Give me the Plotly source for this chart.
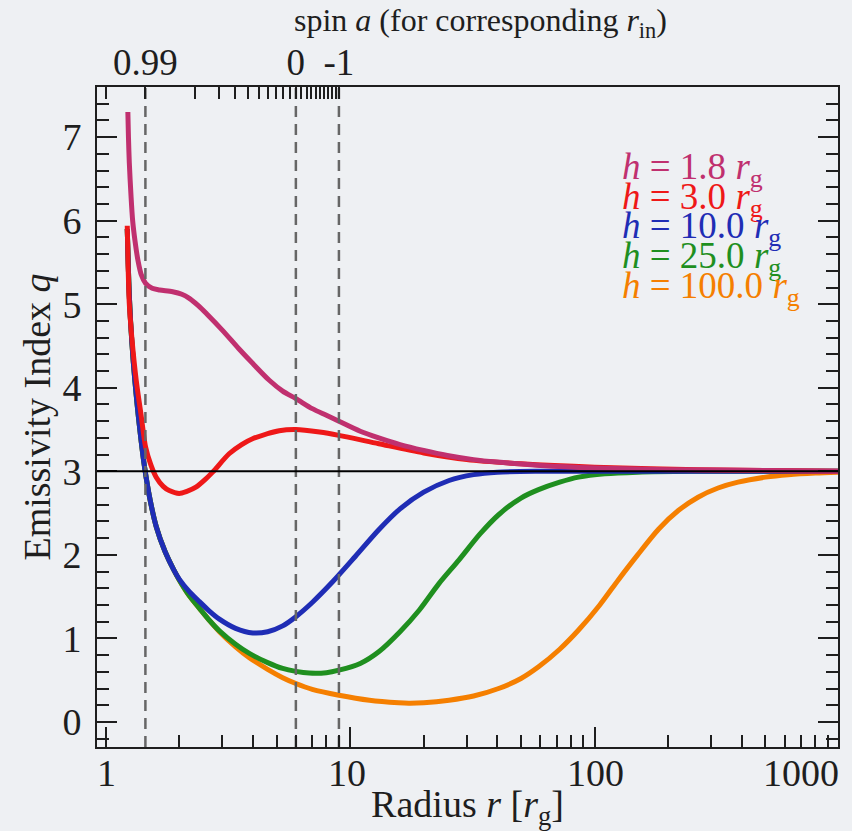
import numpy as np
import plotly.graph_objects as go

# ---------------- data ----------------
r_h18 = [1.233, 1.24, 1.25, 1.27, 1.29, 1.32, 1.355, 1.40, 1.457, 1.55, 1.664, 1.88, 2.05, 2.2, 2.4, 2.6,
         3.0, 3.5, 4.0, 4.67, 5.3, 6.0, 7.0, 8.0, 9.0, 11, 13.1, 16, 20, 25, 32, 40, 60, 100, 200, 500, 1000]
q_h18 = [7.30, 7.0, 6.69, 6.30, 6.0, 5.75, 5.53, 5.35, 5.25, 5.19, 5.17, 5.15, 5.12, 5.07, 4.98, 4.88,
         4.69, 4.47, 4.29, 4.09, 3.96, 3.87, 3.75, 3.67, 3.60, 3.48, 3.40, 3.32, 3.25, 3.19, 3.14, 3.11,
         3.07, 3.04, 3.02, 3.01, 3.0]

r_h3 = [1.226, 1.235, 1.25, 1.28, 1.334, 1.40, 1.457, 1.53, 1.61, 1.72, 1.82, 2.0, 2.15, 2.34, 2.55, 2.74,
        3.2, 3.6, 3.99, 5.13, 6.0, 7.5, 9.0, 13.1, 20, 30, 50, 100, 265, 1000]
q_h3 = [5.94, 5.5, 5.0, 4.6, 4.09, 3.65, 3.29, 3.08, 2.93, 2.82, 2.77, 2.735, 2.76, 2.81, 2.90, 2.99,
        3.21, 3.32, 3.39, 3.485, 3.50, 3.47, 3.43, 3.33, 3.22, 3.14, 3.09, 3.05, 3.02, 3.0]

r_h10 = [1.226, 1.25, 1.28, 1.317, 1.38, 1.443, 1.52, 1.61, 1.75, 1.9, 2.0, 2.2, 2.42, 2.65, 2.92, 3.4,
         4.0, 4.6, 5.3, 6.0, 7.0, 8.5, 10.5, 13.1, 16, 20, 25.4, 32, 40, 60, 100, 1000]
q_h10 = [5.90, 5.1, 4.55, 4.09, 3.5, 3.05, 2.66, 2.34, 2.04, 1.82, 1.71, 1.56, 1.44, 1.33, 1.23, 1.12,
         1.065, 1.08, 1.15, 1.26, 1.43, 1.68, 1.98, 2.30, 2.55, 2.75, 2.89, 2.96, 2.99, 3.0, 3.0, 3.0]

r_h25 = [1.226, 1.25, 1.28, 1.317, 1.38, 1.443, 1.52, 1.61, 1.75, 1.9, 2.0, 2.2, 2.42, 2.65, 2.92, 3.4,
         3.87, 4.6, 5.3, 6.0, 6.8, 8.0, 9.0, 11, 13.1, 16, 19.2, 23, 27.9, 34, 40.5, 50, 59, 72, 86, 110,
         150, 250, 1000]
q_h25 = [5.90, 5.1, 4.55, 4.09, 3.5, 3.05, 2.66, 2.34, 2.04, 1.82, 1.70, 1.51, 1.36, 1.22, 1.09, 0.93,
         0.82, 0.71, 0.64, 0.605, 0.585, 0.59, 0.62, 0.70, 0.84, 1.08, 1.34, 1.65, 1.94, 2.25, 2.48, 2.68,
         2.78, 2.87, 2.93, 2.97, 2.99, 3.0, 3.0]

r_h100 = [1.226, 1.25, 1.28, 1.317, 1.38, 1.443, 1.52, 1.61, 1.75, 1.9, 2.0, 2.2, 2.42, 2.65, 2.92, 3.4,
          3.87, 4.6, 5.3, 6.0, 7.0, 9.0, 12, 15.8, 17.4, 20, 25.4, 32, 40.5, 50, 59, 72, 86, 105, 125, 150,
          183, 220, 265, 320, 386, 500, 620, 800, 1000]
q_h100 = [5.90, 5.1, 4.55, 4.09, 3.5, 3.05, 2.66, 2.34, 2.04, 1.82, 1.70, 1.51, 1.36, 1.22, 1.08, 0.90,
          0.77, 0.63, 0.53, 0.46, 0.39, 0.32, 0.26, 0.23, 0.225, 0.23, 0.26, 0.31, 0.40, 0.52, 0.66, 0.87,
          1.10, 1.40, 1.70, 2.00, 2.31, 2.53, 2.69, 2.80, 2.87, 2.93, 2.96, 2.98, 2.99]

series_names = ["h = 1.8 rg", "h = 3.0 rg", "h = 10.0 rg", "h = 25.0 rg", "h = 100.0 rg"]
series_labels = ["1.8", "3.0", "10.0", "25.0", "100.0"]
series_r = [r_h18, r_h3, r_h10, r_h25, r_h100]
series_q = [q_h18, q_h3, q_h10, q_h25, q_h100]
colors = ["#c0306f", "#ee1818", "#1f2db5", "#1f8f1f", "#f57f00"]

# spin values shown on the top axis (positions = ISCO radius)
spin_labelled = [0.99, 0.0, -1.0]
spin_labels = ["0.99", "0", "-1"]
spin_minor = [1.0, 0.9, 0.8, 0.7, 0.6, 0.5, 0.4, 0.3, 0.2, 0.1,
              -0.1, -0.2, -0.3, -0.4, -0.5, -0.6, -0.7, -0.8, -0.9]

x_ticks = [1, 10, 100, 1000]
x_ticklabels = ["1", "10", "100", "1000"]
y_ticks = [0, 1, 2, 3, 4, 5, 6, 7]
x_range = [0.922, 990]
y_range = [-0.30, 7.60]


def r_isco(a):
    z1 = 1 + (1 - a * a) ** (1 / 3) * ((1 + a) ** (1 / 3) + (1 - a) ** (1 / 3))
    z2 = np.sqrt(3 * a * a + z1 * z1)
    s = 1 if a >= 0 else -1
    return 3 + z2 - s * np.sqrt(max((3 - z1) * (3 + z1 + 2 * z2), 0))


FONT = "Liberation Serif"
BG = "#eef0f3"
TXT = "#1e1e1e"
lx0, lx1 = np.log10(x_range[0]), np.log10(x_range[1])


def xpaper(v):
    return (np.log10(v) - lx0) / (lx1 - lx0)


fig = go.Figure()

# dashed ISCO lines (on the top axis)
for a in spin_labelled:
    rv = r_isco(a)
    fig.add_trace(go.Scatter(x=[rv, rv], y=y_range, mode="lines", xaxis="x2", yaxis="y",
                             line=dict(color="#666666", width=2.5, dash="11px,7px"),
                             hoverinfo="skip", showlegend=False))

# curves (drawn back to front)
for i in [4, 3, 2, 1, 0]:
    fig.add_trace(go.Scatter(x=series_r[i], y=series_q[i], mode="lines", name=series_names[i],
                             line=dict(color=colors[i], width=5, shape="spline", smoothing=0.8),
                             showlegend=False))

fig.add_shape(type="line", xref="paper", x0=0, x1=1, yref="y", y0=3, y1=3,
              line=dict(color="black", width=2), layer="above")

annotations = []
# bottom tick labels
shifts = [1, -3, 1, -38]
for v, t, s in zip(x_ticks, x_ticklabels, shifts):
    annotations.append(dict(x=xpaper(v), xref="paper", y=-0.039, yref="paper", text=t, showarrow=False,
                            xanchor="center", yanchor="middle", xshift=s,
                            font=dict(family=FONT, size=38, color=TXT)))

# legend texts
leg_y = [164, 194, 224, 253, 283]
for i in range(5):
    annotations.append(dict(x=(621 - 97) / 743, xref="paper", y=(747 - leg_y[i]) / 660, yref="paper",
                            text=f"<i>h</i> = {series_labels[i]} <i>r</i><sub>g</sub>",
                            showarrow=False, xanchor="left", yanchor="middle", yshift=-5,
                            font=dict(family=FONT, size=37, color=colors[i])))

# top title
annotations.append(dict(x=(482 - 97) / 743, xref="paper", y=(747 - 22) / 660, yref="paper",
                        text="spin <i>a</i> (for corresponding <i>r</i><sub>in</sub>)", showarrow=False,
                        xanchor="center", yanchor="middle", font=dict(family=FONT, size=32, color=TXT)))

fig.update_layout(
    width=852, height=831,
    margin=dict(l=97, r=12, t=87, b=84),
    paper_bgcolor=BG, plot_bgcolor=BG,
    showlegend=False,
    font=dict(family=FONT, color=TXT),
    annotations=annotations,
    xaxis=dict(type="log", range=[lx0, lx1],
               showgrid=False, zeroline=False, showline=True, linecolor=TXT, linewidth=2, mirror=True,
               ticks="inside", ticklen=20, tickwidth=1.5, tickcolor=TXT,
               tickmode="array", tickvals=x_ticks, showticklabels=False,
               minor=dict(ticks="inside", ticklen=12, tickwidth=1.5, tickcolor=TXT,
                          tickmode="array",
                          tickvals=[m * 10 ** d for d in range(0, 3) for m in range(2, 10)]),
               title=dict(text="Radius <i>r</i> [<i>r</i><sub>g</sub>]", font=dict(size=38), standoff=42)),
    xaxis2=dict(type="log", range=[lx0, lx1], overlaying="x", side="top",
                anchor="y", showgrid=False, zeroline=False, showline=False,
                ticks="inside", ticklen=12, tickwidth=1.5, tickcolor=TXT,
                tickmode="array", tickvals=[r_isco(a) for a in spin_labelled], ticktext=spin_labels,
                tickfont=dict(family=FONT, size=37, color=TXT), ticklabelstandoff=4,
                minor=dict(ticks="inside", ticklen=12, tickwidth=1.5, tickcolor=TXT,
                           tickmode="array", tickvals=[r_isco(a) for a in spin_minor])),
    yaxis=dict(range=y_range, showgrid=False, zeroline=False, showline=True, linecolor=TXT, linewidth=2,
               mirror="ticks", ticks="inside", ticklen=20, tickwidth=1.5, tickcolor=TXT,
               tickmode="array", tickvals=y_ticks, tickfont=dict(family=FONT, size=38, color=TXT),
               ticklabelstandoff=6,
               minor=dict(ticks="inside", ticklen=12, tickwidth=1.5, tickcolor=TXT, dtick=0.2, tick0=0),
               title=dict(text="Emissivity Index <i>q</i>", font=dict(size=38), standoff=0)),
)

fig.write_html("out.html")
